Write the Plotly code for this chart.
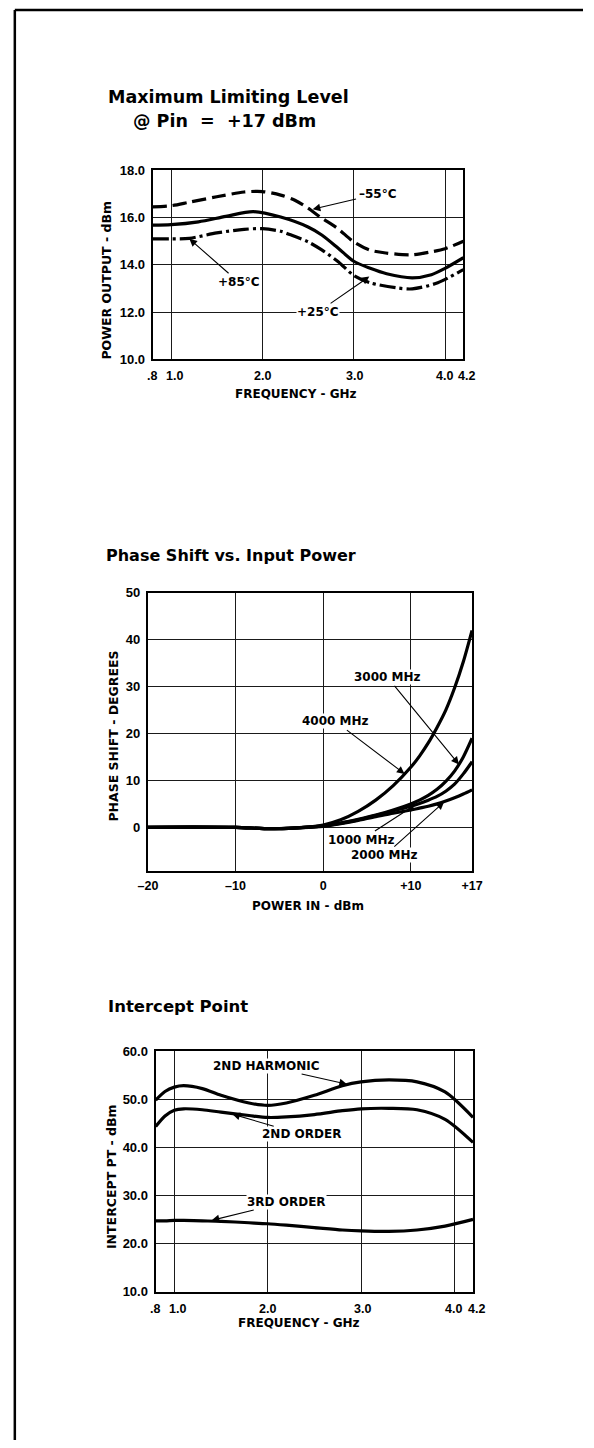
import plotly.graph_objects as go

W, H = 594, 1448

# ---------------- data ----------------
# Plot 1: Maximum Limiting Level @ Pin = +17 dBm
freq_m55 = [0.8, 1.0, 1.2, 1.5, 1.8, 2.0, 2.2, 2.35, 2.5, 2.64, 2.82, 3.0, 3.17, 3.35, 3.63, 3.85, 4.0, 4.2]
pout_m55 = [16.45, 16.5, 16.65, 16.88, 17.08, 17.1, 16.95, 16.74, 16.4, 16.0, 15.55, 14.97, 14.63, 14.5, 14.42, 14.55, 14.68, 15.0]
freq_p25 = [0.8, 1.0, 1.3, 1.6, 1.9, 2.2, 2.5, 2.65, 2.83, 3.0, 3.18, 3.36, 3.64, 3.85, 4.0, 4.2]
pout_p25 = [15.68, 15.7, 15.82, 16.05, 16.25, 16.02, 15.6, 15.26, 14.7, 14.15, 13.85, 13.62, 13.45, 13.58, 13.85, 14.3]
freq_p85 = [0.8, 1.0, 1.2, 1.5, 1.8, 2.0, 2.2, 2.3, 2.5, 2.65, 2.83, 3.0, 3.18, 3.46, 3.64, 3.92, 4.2]
pout_p85 = [15.1, 15.1, 15.12, 15.35, 15.5, 15.53, 15.42, 15.28, 14.97, 14.63, 14.13, 13.55, 13.24, 13.03, 12.98, 13.24, 13.8]
x1_ticks = [0.8, 1.0, 2.0, 3.0, 4.0, 4.2]
x1_ticktext = [".8", "1.0", "2.0", "3.0", "4.0", "4.2"]
x1_tickshift = [-1, 3, 0, 1, -1, 3]  # small pixel nudges of the printed labels
y1_ticks = [10, 12, 14, 16, 18]
y1_ticktext = ["10.0", "12.0", "14.0", "16.0", "18.0"]

# Plot 2: Phase Shift vs. Input Power
pin_dbm = [-20, -15, -10, -6, -3, 0, 2, 4, 6, 8, 10, 11, 12, 13, 14, 15, 16, 17]
ps_4000 = [0, 0.05, 0, -0.3, -0.1, 0.5, 1.6, 3.4, 5.8, 8.9, 12.8, 15.2, 18.0, 21.3, 25.0, 29.7, 35.3, 42.0]
ps_3000 = [0, 0.05, 0, -0.3, -0.1, 0.3, 0.9, 1.7, 2.6, 3.7, 5.0, 5.8, 6.8, 8.1, 9.8, 12.0, 15.0, 19.0]
ps_1000 = [0, 0.05, 0, -0.3, -0.1, 0.3, 0.9, 1.6, 2.5, 3.5, 4.5, 5.1, 5.8, 6.6, 7.7, 9.2, 11.4, 14.0]
ps_2000 = [0, 0.05, 0, -0.3, -0.1, 0.2, 0.8, 1.5, 2.3, 3.0, 3.7, 4.1, 4.5, 5.0, 5.6, 6.3, 7.1, 8.0]
x2_ticks = [-20, -10, 0, 10, 17]
x2_ticktext = ["\u201320", "\u201310", "0", "+10", "+17"]
y2_ticks = [0, 10, 20, 30, 40, 50]
y2_ticktext = ["0", "10", "20", "30", "40", "50"]

# Plot 3: Intercept Point
freq3 = [0.8, 0.9, 1.0, 1.1, 1.3, 1.5, 1.8, 2.0, 2.2, 2.5, 2.8, 3.0, 3.3, 3.6, 3.9, 4.2]
ip_2nd_harm = [49.8, 51.6, 52.5, 52.8, 52.2, 50.8, 49.2, 48.7, 49.2, 50.8, 52.8, 53.6, 54.0, 53.6, 51.5, 46.2]
ip_2nd_order = [44.3, 46.5, 47.7, 48.0, 47.8, 47.3, 46.6, 46.2, 46.3, 46.8, 47.6, 48.0, 48.1, 47.8, 45.8, 41.0]
ip_3rd_order = [24.7, 24.7, 24.8, 24.8, 24.7, 24.6, 24.3, 24.1, 23.8, 23.3, 22.8, 22.6, 22.5, 22.8, 23.6, 25.0]
y3_ticks = [10, 20, 30, 40, 50, 60]
y3_ticktext = ["10.0", "20.0", "30.0", "40.0", "50.0", "60.0"]

# ---------------- layout helpers ----------------
def dx(x0, x1):
    return [x0 / W, x1 / W]

def dy(y0, y1):  # pixel top, pixel bottom
    return [1 - y1 / H, 1 - y0 / H]

TICKFAMILY = "Liberation Sans, Arial, sans-serif"
TICKFONT = dict(family=TICKFAMILY, size=13, color="black", weight="bold")
XTICKFONT = dict(family=TICKFAMILY, size=12.5, color="black", weight="bold")
LABELFONT = dict(family="DejaVu Sans", size=12, color="black", weight="bold")
GRID = "#1a1a1a"

def xaxis(domain, anchor, rng, tv, tt, labels=True):
    return dict(domain=domain, anchor=anchor, range=rng, tickvals=tv, ticktext=tt,
                showgrid=True, gridcolor=GRID, gridwidth=1.3, zeroline=False,
                showline=True, linecolor="black", linewidth=2.2, mirror=True,
                ticks="", tickangle=0, tickfont=XTICKFONT, ticklabelstandoff=2,
                showticklabels=labels, fixedrange=True)

def yaxis(domain, anchor, rng, tv, tt):
    return dict(domain=domain, anchor=anchor, range=rng, tickvals=tv, ticktext=tt,
                showgrid=True, gridcolor=GRID, gridwidth=1.3, zeroline=False,
                showline=True, linecolor="black", linewidth=2.2, mirror=True,
                ticks="", tickfont=TICKFONT, ticklabelstandoff=3, fixedrange=True)

fig = go.Figure()

LW = 3.2
# Plot 1 traces
fig.add_trace(go.Scatter(x=freq_m55, y=pout_m55, mode="lines", xaxis="x", yaxis="y",
                         line=dict(color="black", width=LW, dash="14px,6px", shape="spline", smoothing=0.8)))
fig.add_trace(go.Scatter(x=freq_p25, y=pout_p25, mode="lines", xaxis="x", yaxis="y",
                         line=dict(color="black", width=LW, shape="spline", smoothing=0.8)))
fig.add_trace(go.Scatter(x=freq_p85, y=pout_p85, mode="lines", xaxis="x", yaxis="y",
                         line=dict(color="black", width=LW, dash="16px,4px,3px,4px", shape="spline", smoothing=0.8)))
# Plot 2 traces
for ys in (ps_2000, ps_1000, ps_3000, ps_4000):
    fig.add_trace(go.Scatter(x=pin_dbm, y=ys, mode="lines", xaxis="x2", yaxis="y2",
                             line=dict(color="black", width=LW, shape="spline", smoothing=0.8)))
# Plot 3 traces
for ys in (ip_2nd_harm, ip_2nd_order, ip_3rd_order):
    fig.add_trace(go.Scatter(x=freq3, y=ys, mode="lines", xaxis="x3", yaxis="y3",
                             line=dict(color="black", width=LW, shape="spline", smoothing=0.8)))

ann = []

def label(text, xr, yr, tx, ty, px=None, py=None):
    a = dict(text=text, xref=xr, yref=yr, x=px if px is not None else tx,
             y=py if py is not None else ty, font=LABELFONT, bgcolor="white",
             borderpad=0, showarrow=px is not None)
    if px is not None:
        a.update(ax=tx, ay=ty, axref=xr, ayref=yr, arrowhead=2, arrowsize=1.4,
                 arrowwidth=1.1, arrowcolor="black", standoff=0, startstandoff=2)
    ann.append(a)

# frequency tick labels (the .8/1.0 and 4.0/4.2 pairs sit close together)
for xr, yr in (("x", "y domain"), ("x3", "y3 domain")):
    for v, t, s in zip(x1_ticks, x1_ticktext, x1_tickshift):
        ann.append(dict(text=t, xref=xr, yref=yr, x=v, y=0, xanchor="center",
                        yanchor="top", yshift=-8, xshift=s, showarrow=False,
                        font=XTICKFONT))

# plot 1 labels
label("\u201355°C", "x", "y", 3.26, 17.0, 2.55, 16.35)
label("+85°C", "x", "y", 1.74, 13.27, 1.2, 15.1)
label("+25°C", "x", "y", 2.61, 12.0, 3.17, 13.5)
# plot 2 labels
label("3000 MHz", "x2", "y2", 7.3, 32.1, 15.5, 13.4)
label("4000 MHz", "x2", "y2", 1.4, 22.6, 9.3, 11.4)
label("1000 MHz", "x2", "y2", 4.4, -2.6, 10.5, 4.8)
label("2000 MHz", "x2", "y2", 7.0, -6.0, 13.8, 5.4)
# plot 3 labels
label("2ND HARMONIC", "x3", "y3", 1.99, 56.9, 2.85, 53.1)
label("2ND ORDER", "x3", "y3", 2.36, 42.7, 1.62, 46.9)
label("3RD ORDER", "x3", "y3", 2.2, 28.6, 1.4, 24.8)

def paper_text(text, x, y, size, bold=False, angle=0, xanchor="center"):
    ann.append(dict(text=text, xref="paper", yref="paper", x=x / W, y=1 - y / H,
                    xanchor=xanchor, yanchor="middle", showarrow=False, textangle=angle,
                    font=dict(family="DejaVu Sans", size=size, color="black",
                              weight="bold" if bold else "normal")))

# titles
paper_text("Maximum Limiting Level", 100, 91, 17.5, True, xanchor="left")
paper_text("@ Pin  =  +17 dBm", 222, 115, 17.5, True)
paper_text("Phase Shift vs. Input Power", 97, 554, 16, True, xanchor="left")
paper_text("Intercept Point", 99, 1010, 16.5, True, xanchor="left")
# axis titles
paper_text("POWER OUTPUT - dBm", 100, 276, 12.5, True, angle=-90)
paper_text("FREQUENCY - GHz", 296, 391, 12, True)
paper_text("PHASE SHIFT - DEGREES", 107, 737, 12.5, True, angle=-90)
paper_text("POWER IN - dBm", 309, 908, 12, True)
paper_text("INTERCEPT PT - dBm", 105, 1182, 12.5, True, angle=-90)
paper_text("FREQUENCY - GHz", 300, 1330, 12, True)

shapes = [
    dict(type="line", xref="paper", yref="paper", x0=5 / W, x1=5 / W, y0=0, y1=1 - 3 / H,
         line=dict(color="black", width=2.5)),
    dict(type="line", xref="paper", yref="paper", x0=5 / W, x1=1, y0=1 - 3 / H, y1=1 - 3 / H,
         line=dict(color="black", width=2.5)),
]

fig.update_layout(
    width=W, height=H, margin=dict(l=0, r=0, t=0, b=0),
    paper_bgcolor="white", plot_bgcolor="white", showlegend=False,
    xaxis=xaxis(dx(148, 470), "y", [0.8, 4.2], x1_ticks, x1_ticktext, labels=False),
    yaxis=yaxis(dy(165, 356), "x", [10, 18], y1_ticks, y1_ticktext),
    xaxis2=xaxis(dx(143, 479), "y2", [-20, 17], x2_ticks, x2_ticktext),
    yaxis2=yaxis(dy(592, 873), "x2", [-9.3, 50], y2_ticks, y2_ticktext),
    xaxis3=xaxis(dx(151, 480), "y3", [0.8, 4.2], x1_ticks, x1_ticktext, labels=False),
    yaxis3=yaxis(dy(1055, 1298), "x3", [10, 60], y3_ticks, y3_ticktext),
    annotations=ann, shapes=shapes,
)

fig.write_html(
    "out.html",
    config={"displayModeBar": False},
    post_script="document.body.style.margin='0';document.body.style.overflow='hidden';",
)
